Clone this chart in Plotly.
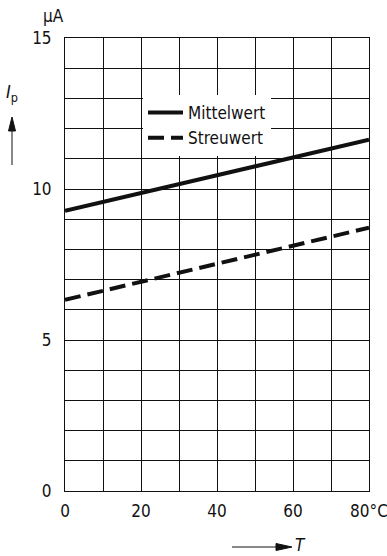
import plotly.graph_objects as go

temps = [0, 20, 40, 60, 80]
mittelwert = [9.28, 9.87, 10.45, 11.04, 11.63]
streuwert = [6.33, 6.92, 7.52, 8.12, 8.72]
x_tickvals = [0, 20, 40, 60, 80]
x_ticktext = ["0", "20", "40", "60", "80°C"]
y_tickvals = [0, 5, 10, 15]
y_ticktext = ["0", "5", "10", "15"]

FONT = "DejaVu Sans Condensed, Roboto Condensed, Liberation Sans Narrow, Roboto, sans-serif"
INK = "#111111"
FS = 17

W, H = 387, 556
ML, MR, MT, MB = 65, 18, 38, 65
PW, PH = W - ML - MR, H - MT - MB


def px(xp):
    return (xp - ML) / PW


def py(yp):
    return (H - MB - yp) / PH


fig = go.Figure()
fig.add_trace(go.Scatter(x=temps, y=mittelwert, mode="lines", name="Mittelwert",
                         line=dict(color=INK, width=4)))
fig.add_trace(go.Scatter(x=temps, y=streuwert, mode="lines", name="Streuwert",
                         line=dict(color=INK, width=4, dash="16px,7px")))

axis_common = dict(showline=True, mirror=True, linecolor=INK, linewidth=1,
                   showgrid=True, gridcolor=INK, gridwidth=1, zeroline=False,
                   ticks="outside", tickcolor="rgba(0,0,0,0)", automargin=False,
                   tickfont=dict(family=FONT, size=FS, color=INK))

fig.update_xaxes(range=[0, 80], tickmode="array", tickvals=x_tickvals, ticktext=x_ticktext,
                 ticklen=5, ticklabeloverflow="allow",
                 minor=dict(dtick=10, showgrid=True, gridcolor=INK, gridwidth=1),
                 **axis_common)
fig.update_yaxes(range=[0, 15], tickmode="array", tickvals=y_tickvals, ticktext=y_ticktext,
                 ticklen=9, minor=dict(dtick=1, showgrid=True, gridcolor=INK, gridwidth=1),
                 **axis_common)

fig.add_annotation(xref="paper", yref="paper", x=px(53), y=py(16), text="μA", showarrow=False,
                   font=dict(family=FONT, size=FS, color=INK), xanchor="center", yanchor="middle")
fig.add_annotation(xref="paper", yref="paper", x=px(4), y=py(93), text="<i>I</i><sub>p</sub>",
                   showarrow=False, font=dict(family=FONT, size=18, color=INK),
                   xanchor="left", yanchor="middle")
fig.add_annotation(xref="paper", yref="paper", x=px(300), y=py(545), text="<i>T</i>",
                   showarrow=False, font=dict(family=FONT, size=FS, color=INK),
                   xanchor="center", yanchor="middle")

# arrow up under I_p
fig.add_shape(type="line", xref="paper", yref="paper", x0=px(12), x1=px(12), y0=py(165), y1=py(128),
              line=dict(color=INK, width=1))
fig.add_shape(type="path", xref="paper", yref="paper",
              path=f"M {px(12)} {py(117)} L {px(8.5)} {py(131)} L {px(15.5)} {py(131)} Z",
              fillcolor=INK, line=dict(color=INK, width=1))
# arrow right to T
fig.add_shape(type="line", xref="paper", yref="paper", x0=px(232), x1=px(280), y0=py(547), y1=py(547),
              line=dict(color=INK, width=1))
fig.add_shape(type="path", xref="paper", yref="paper",
              path=f"M {px(292)} {py(547)} L {px(276)} {py(543.5)} L {px(276)} {py(550.5)} Z",
              fillcolor=INK, line=dict(color=INK, width=1))

fig.update_layout(
    width=W, height=H,
    margin=dict(l=ML, r=MR, t=MT, b=MB, autoexpand=False),
    paper_bgcolor="white", plot_bgcolor="white",
    font=dict(family=FONT, size=FS, color=INK),
    showlegend=True,
    legend=dict(x=px(143), y=py(95), xanchor="left", yanchor="top", bgcolor="white",
                borderwidth=0, itemwidth=35, font=dict(family=FONT, size=FS, color=INK),
                tracegroupgap=0),
)

fig.write_html("out.html", config={"displayModeBar": False},
               post_script="document.body.style.margin='0';")
